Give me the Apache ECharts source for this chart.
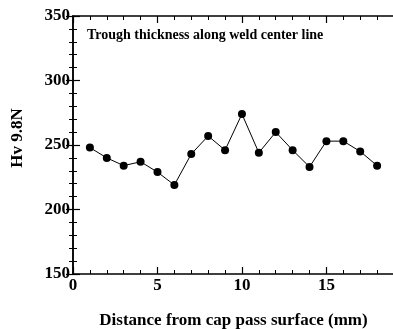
<!DOCTYPE html>
<html>
<head>
<meta charset="utf-8">
<script src="https://cdn.jsdelivr.net/npm/echarts@6/dist/echarts.min.js"></script>
<style>
  html, body { margin: 0; padding: 0; background: #fff; }
  #chart { width: 393px; height: 329px; }
</style>
</head>
<body>
<div id="chart"></div>
<script>
// Hardness profile along the weld center line
const distanceMm = [1, 2, 3, 4, 5, 6, 7, 8, 9, 10, 11, 12, 13, 14, 15, 16, 17, 18];
const hardnessHv = [248, 240, 234, 237, 229, 219, 243, 257, 246, 274, 244, 260, 246, 233, 253, 253, 245, 234];
const xTicks = [0, 5, 10, 15];
const yTicks = [150, 200, 250, 300, 350];

const FONT = '"Liberation Serif", "Times New Roman", serif';
const points = distanceMm.map((d, i) => [d, hardnessHv[i]]);

// All ticks point into the plot area (minor ticks follow the major tick direction).
const baseAxis = {
  axisLine: { show: true, lineStyle: { color: '#000', width: 1.5 } },
  axisTick: { show: true, inside: true, length: 7, lineStyle: { color: '#000', width: 1.2 } },
  minorTick: { show: true, splitNumber: 5, length: 4, lineStyle: { color: '#000', width: 1 } },
  splitLine: { show: false }
};

const chart = echarts.init(document.getElementById('chart'), null, { renderer: 'canvas' });
chart.setOption({
  animation: false,
  backgroundColor: '#fff',
  grid: { left: 73, top: 16, width: 321, height: 258, containLabel: false, outerBoundsMode: 'none' },
  xAxis: [
    Object.assign({}, baseAxis, {
      type: 'value', min: 0, max: 19, interval: 5, position: 'bottom',
      name: 'Distance from cap pass surface (mm)', nameLocation: 'middle', nameGap: 38,
      nameTextStyle: { fontFamily: FONT, fontWeight: 'bold', fontSize: 17, color: '#000' },
      axisLabel: {
        fontFamily: FONT, fontWeight: 'bold', fontSize: 17, color: '#000', margin: 3,
        formatter: v => (xTicks.includes(v) ? String(v) : '')
      }
    }),
    Object.assign({}, baseAxis, {
      type: 'value', min: 0, max: 19, interval: 5, position: 'top',
      axisLabel: { show: false }
    })
  ],
  yAxis: [
    Object.assign({}, baseAxis, {
      type: 'value', min: 150, max: 350, interval: 50, position: 'left',
      name: 'Hv 9.8N', nameLocation: 'middle', nameGap: 47, nameRotate: 90,
      nameTextStyle: { fontFamily: FONT, fontWeight: 'bold', fontSize: 17, color: '#000', padding: [0, 0, 0, 14] },
      axisLabel: {
        fontFamily: FONT, fontWeight: 'bold', fontSize: 17, color: '#000', margin: 3,
        formatter: v => (yTicks.includes(v) ? String(v) : '')
      }
    }),
    Object.assign({}, baseAxis, {
      type: 'value', min: 150, max: 350, interval: 50, position: 'right',
      axisLabel: { show: false }
    })
  ],
  graphic: [{
    type: 'text', left: 87, top: 28,
    style: {
      text: 'Trough thickness along weld center line',
      font: 'bold 14px ' + FONT, fill: '#000'
    }
  }],
  series: [{
    type: 'line', data: points, xAxisIndex: 0, yAxisIndex: 0,
    symbol: 'circle', symbolSize: 8,
    lineStyle: { color: '#000', width: 1 },
    itemStyle: { color: '#000' }
  }]
});
</script>
</body>
</html>
